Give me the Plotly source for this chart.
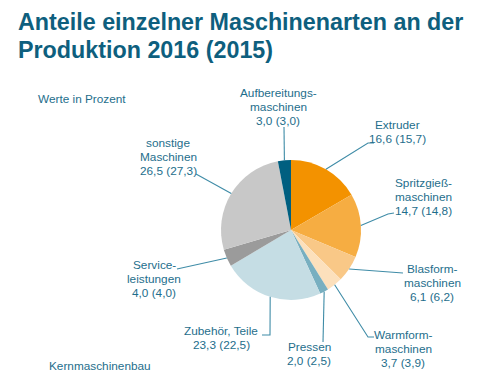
import math
import plotly.graph_objects as go

W, H = 480, 390

# ---- data ----
categories = ["Extruder", "Spritzgießmaschinen", "Blasformmaschinen", "Warmformmaschinen",
              "Pressen", "Zubehör, Teile", "Serviceleistungen", "sonstige Maschinen",
              "Aufbereitungsmaschinen"]
values_2016 = [16.6, 14.7, 6.1, 3.7, 2.0, 23.3, 4.0, 26.5, 3.0]
values_2015 = [15.7, 14.8, 6.2, 3.9, 2.5, 22.5, 4.0, 27.3, 3.0]
label_names = [["Extruder"], ["Spritzgieß-", "maschinen"], ["Blasform-", "maschinen"],
               ["Warmform-", "maschinen"], ["Pressen"], ["Zubehör, Teile"],
               ["Service-", "leistungen"], ["sonstige", "Maschinen"],
               ["Aufbereitungs-", "maschinen"]]

def fmt(v):
    return f"{v:.1f}".replace(".", ",")

# ---- styles / layout ----
colors = ["#F39200", "#F6AD42", "#F9C887", "#FCE0BC", "#78AFC0", "#C5DDE4",
          "#9B9B9B", "#C8C8C8", "#005F80"]
text_color = "#1E6E8C"
line_color = "#3F8CA7"
title_color = "#0E5F7E"
FONT = "Liberation Sans, Arial, sans-serif"

cx, cy, r = 291, 230, 70  # pie centre & radius in pixels

# label block: (centre x, first-line y) in pixels
label_pos = [(397, 125), (423, 183), (432, 269), (403, 335), (309, 347),
             (221, 331), (154, 265), (168, 143), (278, 93)]
# leader line waypoints after the edge point (pixels)
leader_pts = [[(368, 143), (374, 143)], [(388, 214), (394, 213)], [(403, 273)],
              [(368, 337), (374, 337)], [(323, 342)], [(270, 335), (262, 335)],
              [(177, 269)], [(196, 174)], [(284, 127)]]
LINE_SP = 13.8

def px(x):
    return x / W

def py(y):
    return 1 - y / H

fig = go.Figure(go.Pie(
    labels=categories, values=values_2016, sort=False, direction="clockwise",
    rotation=0, marker=dict(colors=colors, line=dict(width=0)),
    textinfo="none", hoverinfo="label+value", showlegend=False,
    domain=dict(x=[px(cx - r), px(cx + r)], y=[py(cy + r), py(cy - r)]),
))

annotations = []
shapes = []
total = sum(values_2016)
cum = 0.0
for i, v in enumerate(values_2016):
    mid = (cum + v / 2) / total * 2 * math.pi
    cum += v
    ex, ey = cx + r * math.sin(mid), cy - r * math.cos(mid)
    pts = [(ex, ey)] + leader_pts[i]
    path = "M " + " L ".join(f"{px(x):.5f},{py(y):.5f}" for x, y in pts)
    shapes.append(dict(type="path", path=path, xref="paper", yref="paper",
                       line=dict(color=line_color, width=1.1)))
    lines = label_names[i] + [f"{fmt(values_2016[i])} ({fmt(values_2015[i])})"]
    lx, ly = label_pos[i]
    for k, t in enumerate(lines):
        annotations.append(dict(text=t, x=px(lx), y=py(ly + k * LINE_SP), xref="paper",
                                yref="paper", xanchor="center", yanchor="middle",
                                showarrow=False,
                                font=dict(family=FONT, size=11.8, color=text_color)))

title_lines = ["Anteile einzelner Maschinenarten an der", "Produktion 2016 (2015)"]
for k, t in enumerate(title_lines):
    annotations.append(dict(text=f"<b>{t}</b>", x=px(16), y=py(22 + k * 28), xref="paper",
                            yref="paper", xanchor="left", yanchor="middle", showarrow=False,
                            font=dict(family=FONT, size=23.3, color=title_color)))

annotations.append(dict(text="Werte in Prozent", x=px(36), y=py(99), xref="paper", yref="paper",
                        xanchor="left", yanchor="middle", showarrow=False,
                        font=dict(family=FONT, size=11.8, color=text_color)))
annotations.append(dict(text="Kernmaschinenbau", x=px(47), y=py(366), xref="paper", yref="paper",
                        xanchor="left", yanchor="middle", showarrow=False,
                        font=dict(family=FONT, size=11.8, color=text_color)))

fig.update_layout(width=W, height=H, margin=dict(l=0, r=0, t=0, b=0),
                  paper_bgcolor="white", plot_bgcolor="white",
                  annotations=annotations, shapes=shapes)
fig.write_html("out.html", post_script="document.body.style.margin='0';",
               config={"displayModeBar": False})
